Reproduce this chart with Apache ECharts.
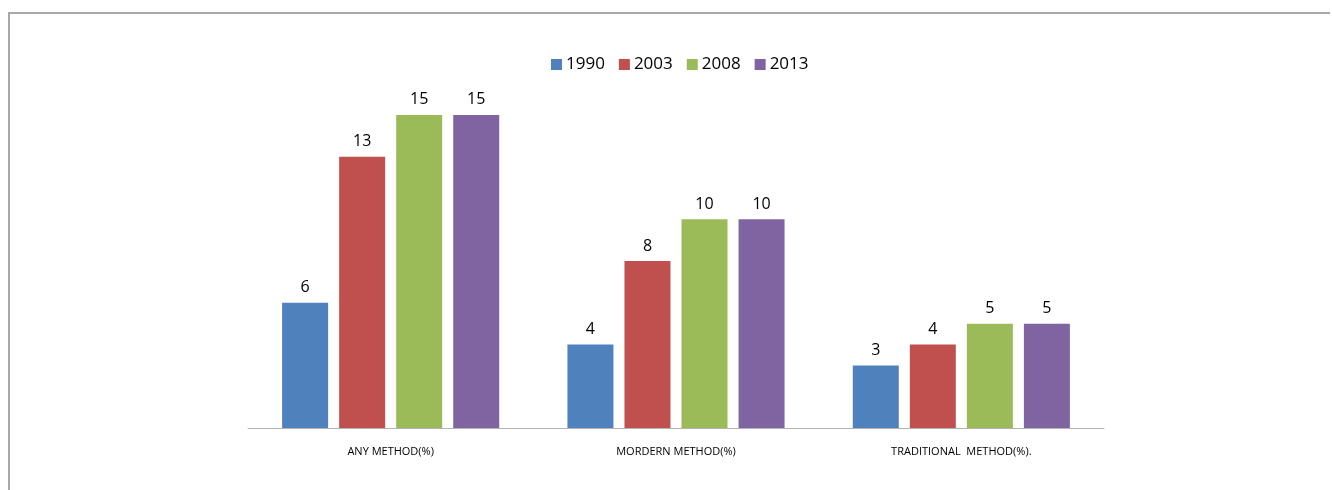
<!DOCTYPE html>
<html>
<head>
<meta charset="utf-8">
<script src="https://cdn.jsdelivr.net/npm/echarts@6/dist/echarts.min.js"></script>
<style>
html,body{margin:0;padding:0;background:#fff;overflow:hidden;width:1332px;height:490px;}
#frame{position:absolute;left:8px;top:12px;width:1322px;height:478px;border-left:2px solid #a8a8a8;border-top:2px solid #a8a8a8;box-sizing:border-box;}
#chart{position:absolute;left:0;top:0;width:1332px;height:490px;}
</style>
</head>
<body>
<div id="frame"></div>
<div id="chart"></div>
<script>
const categories = ["ANY METHOD(%)", "MORDERN METHOD(%)", "TRADITIONAL  METHOD(%)."];
const seriesNames = ["1990", "2003", "2008", "2013"];
const values1990 = [6, 4, 3];
const values2003 = [13, 8, 4];
const values2008 = [15, 10, 5];
const values2013 = [15, 10, 5];
const colors = ["#4F81BD", "#C0504D", "#9BBB59", "#8064A2"];

const allValues = [values1990, values2003, values2008, values2013];
const chart = echarts.init(document.getElementById('chart'), null, {renderer: 'canvas'});
const font = "'Open Sans', 'Liberation Sans', sans-serif";
chart.setOption({
  animation: false,
  textStyle: {fontFamily: font},
  legend: {
    left: 546,
    top: 51,
    itemWidth: 11,
    itemHeight: 11,
    itemGap: 14,
    icon: 'rect',
    textStyle: {fontSize: 17, color: '#000', fontFamily: font, padding: [0, 0, 0, -1]},
    data: seriesNames
  },
  grid: {left: 248, right: 228, top: 94, bottom: 62, containLabel: false},
  xAxis: {
    type: 'category',
    data: categories,
    axisLine: {lineStyle: {color: '#b3b3b3', width: 1}},
    axisTick: {show: false},
    axisLabel: {interval: 0, fontSize: 11, color: '#000', margin: 18, fontFamily: font}
  },
  yAxis: {
    type: 'value',
    min: 0, max: 16, interval: 2,
    show: false,
    splitLine: {show: false}
  },
  series: seriesNames.map((n, i) => ({
    name: n,
    type: 'bar',
    data: allValues[i],
    barWidth: 46,
    barGap: '24%',
    itemStyle: {color: colors[i]},
    label: {show: true, position: 'top', distance: 7, fontSize: 16, color: '#000', fontFamily: font}
  }))
});
</script>
</body>
</html>
